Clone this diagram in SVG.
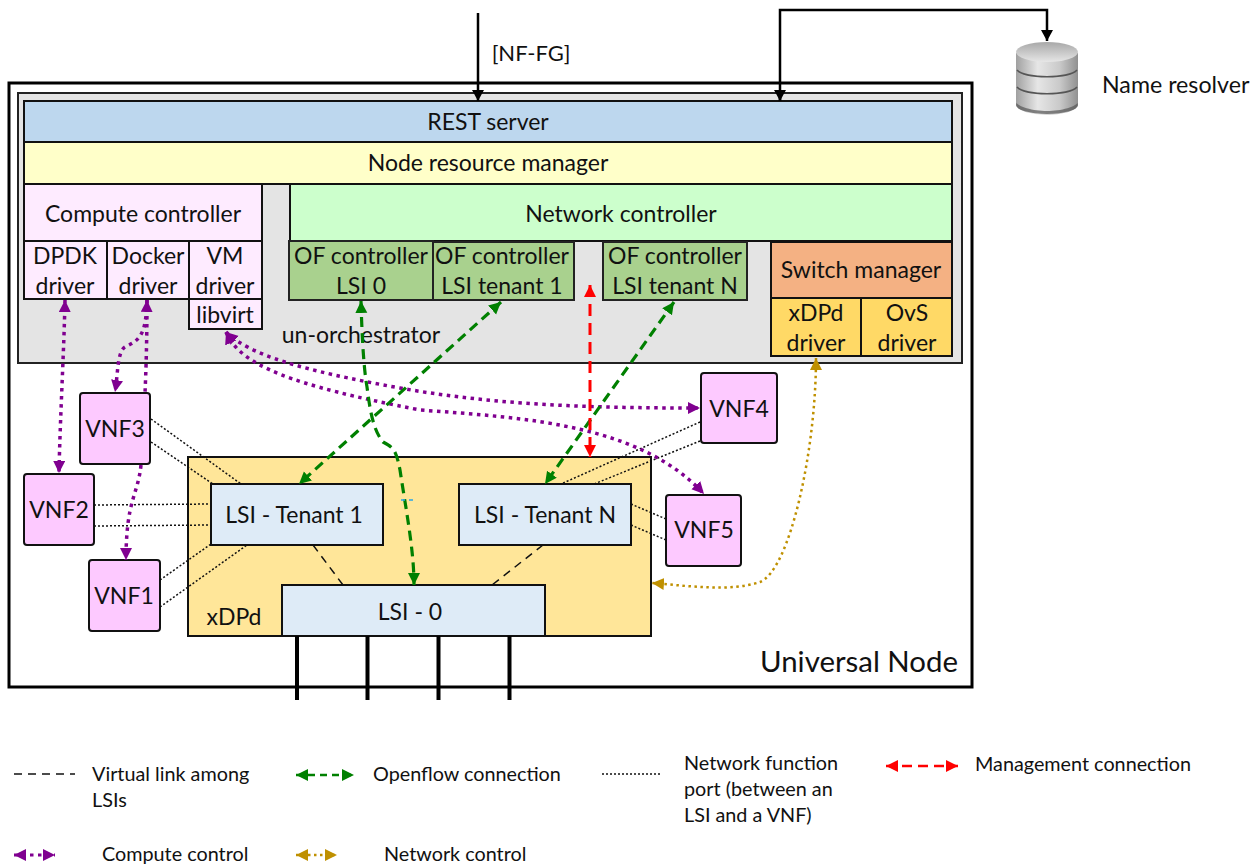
<svg xmlns="http://www.w3.org/2000/svg" width="1258" height="865" viewBox="0 0 1258 865">
<style>
text{font-family:Lato,"Noto Sans",sans-serif;font-size:23px;fill:#111;text-anchor:middle}
.l{font-size:19.8px;text-anchor:start}
.nf{fill:none}
.vnf{fill:#fdc9ff;stroke:#111;stroke-width:2}
.pk{fill:#feebff;stroke:#111;stroke-width:2}
.gr{fill:#a9d18e;stroke:#222;stroke-width:2}
.lsi{fill:#deebf7;stroke:#111;stroke-width:2}
.yl{fill:#ffd966;stroke:#111;stroke-width:2}
.c{fill:none;stroke:#800090;stroke-width:3.5;stroke-dasharray:3.5 4.5;marker-start:url(#mp);marker-end:url(#mp)}
.o{fill:none;stroke:#008000;stroke-width:3.2;stroke-dasharray:10 6;marker-start:url(#mg);marker-end:url(#mg)}
.n{fill:none;stroke:#bf9000;stroke-width:2.5;stroke-dasharray:2.5 3.5;marker-start:url(#my);marker-end:url(#my)}
.r{fill:none;stroke:#f00;stroke-width:3;stroke-dasharray:12 7;marker-start:url(#mr);marker-end:url(#mr)}
.p{fill:none;stroke:#111;stroke-width:1.5;stroke-dasharray:2 2}
.v{fill:none;stroke:#111;stroke-width:1.5;stroke-dasharray:8 6}
.k{fill:none;stroke:#000;stroke-width:2.5}
.t{fill:none;stroke:#000;stroke-width:4}
</style>
<defs>
<marker id="mp" markerUnits="userSpaceOnUse" markerWidth="14" markerHeight="14" refX="12" refY="6" orient="auto-start-reverse"><path d="M0 0L12 6L0 12Z" fill="#800090"/></marker>
<marker id="mg" markerUnits="userSpaceOnUse" markerWidth="14" markerHeight="14" refX="12" refY="6" orient="auto-start-reverse"><path d="M0 0L12 6L0 12Z" fill="#008000"/></marker>
<marker id="my" markerUnits="userSpaceOnUse" markerWidth="14" markerHeight="14" refX="12" refY="6" orient="auto-start-reverse"><path d="M0 0L12 6L0 12Z" fill="#bf9000"/></marker>
<marker id="mr" markerUnits="userSpaceOnUse" markerWidth="14" markerHeight="14" refX="12" refY="6" orient="auto-start-reverse"><path d="M0 0L12 6L0 12Z" fill="#f00"/></marker>
<marker id="mk" markerUnits="userSpaceOnUse" markerWidth="14" markerHeight="14" refX="11" refY="6" orient="auto"><path d="M0 0L11 6L0 12Z" fill="#000"/></marker>
<linearGradient id="db" x1="0" x2="1" y1="0" y2="0"><stop offset="0" stop-color="#a0a0a0"/><stop offset=".35" stop-color="#e6e6e6"/><stop offset=".7" stop-color="#cacaca"/><stop offset="1" stop-color="#909090"/></linearGradient>
<linearGradient id="dbt" x1="0" x2="0" y1="0" y2="1"><stop offset="0" stop-color="#a8a8a8"/><stop offset="1" stop-color="#e6e6e6"/></linearGradient>
</defs>

<g id="universal-node"><rect x="9" y="83" width="963" height="604" fill="#fff" stroke="#000" stroke-width="3"/><text x="859" y="672" style="font-size:29.4px">Universal Node</text></g>
<g id="un-orchestrator"><rect x="18" y="93" width="944" height="270" fill="#e4e4e4" stroke="#222" stroke-width="2"/><text x="361" y="343">un-orchestrator</text></g>
<g id="rest-server"><rect x="24" y="101" width="928" height="41" fill="#bdd7ee" stroke="#111" stroke-width="2"/><text x="488" y="130">REST server</text></g>
<g id="node-resource-manager"><rect x="24" y="142" width="928" height="42" fill="#ffffc9" stroke="#111" stroke-width="2"/><text x="488" y="171">Node resource manager</text></g>
<g id="compute-controller"><rect x="24" y="184" width="238" height="57" class="pk"/><text x="143" y="222">Compute controller</text></g>
<g id="dpdk-driver"><rect x="24" y="241" width="83" height="58" class="pk"/><text x="65" y="264">DPDK</text><text x="65" y="294">driver</text></g>
<g id="docker-driver"><rect x="107" y="241" width="82" height="58" class="pk"/><text x="148" y="264">Docker</text><text x="148" y="294">driver</text></g>
<g id="vm-driver"><rect x="189" y="241" width="73" height="58" class="pk"/><text x="225" y="264">VM</text><text x="225" y="294">driver</text></g>
<g id="libvirt"><rect x="189" y="299" width="73" height="30" class="pk"/><text x="225" y="323">libvirt</text></g>
<g id="network-controller"><rect x="290" y="184" width="662" height="57" fill="#ccffcc" stroke="#111" stroke-width="2"/><text x="621" y="222">Network controller</text></g>
<g id="of-lsi0"><rect x="289" y="241" width="144" height="59" class="gr"/><text x="361" y="264">OF controller</text><text x="361" y="294">LSI 0</text></g>
<g id="of-tenant1"><rect x="433" y="242" width="141" height="58" class="gr"/><text x="502" y="264">OF controller</text><text x="502" y="294">LSI tenant 1</text></g>
<g id="of-tenantN"><rect x="603" y="242" width="144" height="58" class="gr"/><text x="675" y="264">OF controller</text><text x="675" y="294">LSI tenant N</text></g>
<g id="switch-manager"><rect x="771" y="242" width="181" height="56" fill="#f4b183" stroke="#111" stroke-width="2"/><text x="861" y="278">Switch manager</text></g>
<g id="xdpd-driver"><rect x="771" y="298" width="90" height="58" class="yl"/><text x="816" y="321">xDPd</text><text x="816" y="351">driver</text></g>
<g id="ovs-driver"><rect x="861" y="298" width="91" height="58" class="yl"/><text x="907" y="321">OvS</text><text x="907" y="351">driver</text></g>

<g id="xdpd"><rect x="188" y="457" width="463" height="179" fill="#ffe699" stroke="#111" stroke-width="2"/><text x="234" y="625">xDPd</text></g>
<g id="lsi-tenant1"><rect x="211" y="484" width="172" height="61" class="lsi"/><text x="294" y="523">LSI - Tenant 1</text></g>
<g id="lsi-tenantN"><rect x="459" y="484" width="172" height="61" class="lsi"/><text x="545" y="523">LSI - Tenant N</text></g>
<g id="lsi-0"><rect x="282" y="585" width="263" height="51" class="lsi"/><text x="410" y="620">LSI - 0</text></g>
<g id="vnf1"><rect x="89" y="560" width="71" height="71" rx="3" class="vnf"/><text x="124" y="604">VNF1</text></g>
<g id="vnf2"><rect x="24" y="474" width="70" height="71" rx="3" class="vnf"/><text x="59" y="518">VNF2</text></g>
<g id="vnf3"><rect x="80" y="393" width="70" height="71" rx="3" class="vnf"/><text x="115" y="437">VNF3</text></g>
<g id="vnf4"><rect x="701" y="373" width="76" height="70" rx="3" class="vnf"/><text x="739" y="417">VNF4</text></g>
<g id="vnf5"><rect x="666" y="495" width="75" height="71" rx="3" class="vnf"/><text x="704" y="538">VNF5</text></g>
<g id="name-resolver">
<path d="M1016 53V104C1016 111 1034 115 1047 115S1078 111 1078 104V53Z" fill="url(#db)"/>
<ellipse cx="1047" cy="105" rx="31" ry="9" fill="#555" opacity=".7"/>
<path d="M1016 53V101C1016 107 1034 111 1047 111S1078 107 1078 101V53Z" fill="url(#db)"/>
<ellipse cx="1047" cy="52" rx="31" ry="10" fill="url(#dbt)"/>
<path d="M1017 70C1025 79 1069 79 1077 70M1017 87C1025 96 1069 96 1077 87" fill="none" stroke="#555" stroke-width="1.5"/>
<text x="1102" y="93" style="text-anchor:start;font-size:23.2px">Name resolver</text>
</g>

<g id="connectors">
<path class="k" d="M478 13V101" marker-end="url(#mk)"/>
<path class="k" d="M780 101V10H1047V41" marker-end="url(#mk)"/>
<path class="k" d="M780 90V101" marker-end="url(#mk)"/>
<path class="t" d="M297 636V700M367.500 636V700M438.500 636V700M509.500 636V700"/>
<path class="p" d="M151 419L241 484M151 442L213 484M94 505L211 504M94 526L211 525M160 580L211 544M160 607L247 545M700 422L561 484M700 441L594 484M631 504L666 519M631 525L666 540"/>
<path class="v" d="M313 545L343 585M543 545L492 585"/>
<path class="c" d="M65 300C64 350 60 420 59 473"/>
<path class="c" d="M147 300C146 335 140 340 125 347C117 352 118 375 115 392"/>
<path class="c" d="M147 300C147 340 146 370 145 393M141 465C138 495 126 500 126 560" style="marker-start:none"/>
<path class="c" d="M226 332C250 355 300 370 400 388S600 408 700 408"/>
<path class="c" d="M226 332C240 365 290 385 420 410C530 418 640 425 704 494"/>
<path class="o" d="M361 301C362 340 364 370 367 387C370 410 373 430 383 442C394 448 396 450 400 470C406 510 414 550 414 585"/>
<path class="o" d="M501 302L299 484"/>
<path class="o" d="M674 302L545 484"/>
<path class="r" d="M590 285V457"/>
<path class="n" d="M816 358C816 450 790 570 760 582C730 592 690 586 652 583"/>
<path d="M401 500h4M409 500h4" stroke="#2aa6e8" stroke-width="1.500" fill="none"/>
</g>

<g id="legend">
<path class="v" d="M14 774H75"/><text class="l" x="92" y="781">Virtual link among</text><text class="l" x="92" y="807">LSIs</text>
<path class="o" style="stroke-width:2.500;stroke-dasharray:7 5" d="M296 775H354"/><text class="l" x="373" y="781">Openflow connection</text>
<path class="p" d="M602 774H662"/><text class="l" x="684" y="770">Network function</text><text class="l" x="684" y="796">port (between an</text><text class="l" x="684" y="822">LSI and a VNF)</text>
<path class="r" style="stroke-width:2.500;stroke-dasharray:10 6" d="M886 766H958"/><text class="l" x="975" y="771">Management connection</text>
<path class="c" style="stroke-width:3" d="M14 855H55"/><text class="l" x="102" y="861">Compute control</text>
<path class="n" d="M296 855H337"/><text class="l" x="384" y="861">Network control</text>
</g>
<text x="531" y="61" style="font-size:22px">[NF-FG]</text>
</svg>
